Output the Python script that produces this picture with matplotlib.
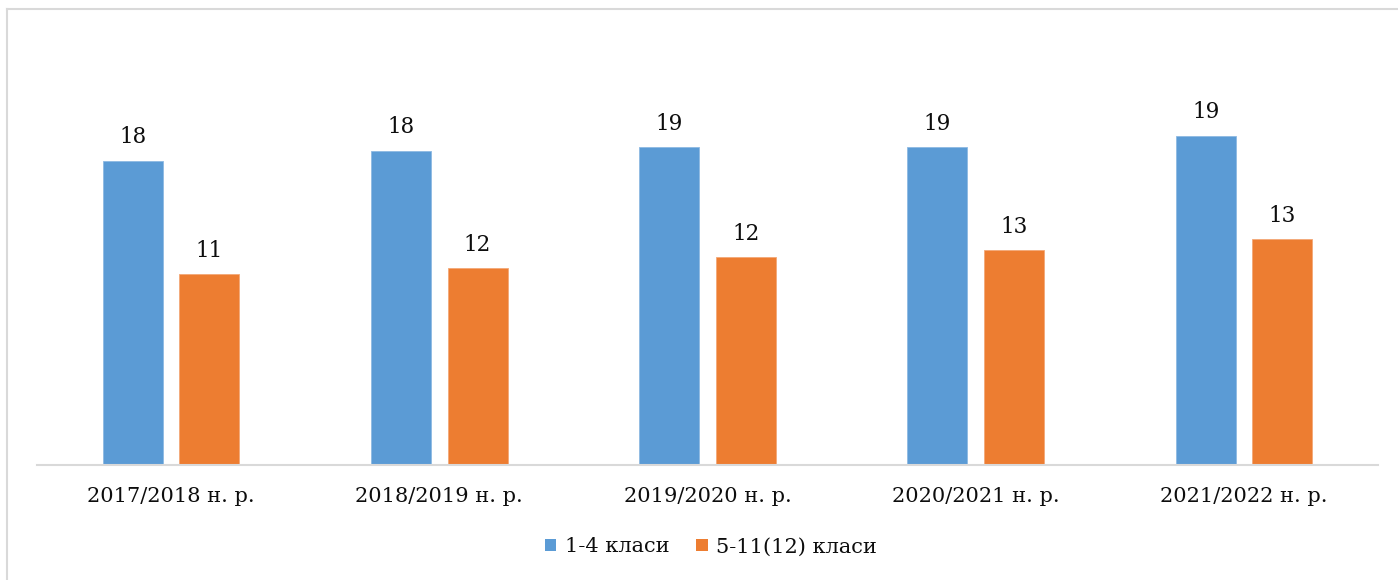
import numpy as np
import matplotlib
matplotlib.use('Agg')
from matplotlib import pyplot as plt
from matplotlib.patches import Patch
from matplotlib.lines import Line2D

# data
years = ['2017/2018 н. р.', '2018/2019 н. р.', '2019/2020 н. р.',
         '2020/2021 н. р.', '2021/2022 н. р.']
junior = [17.88, 18.47, 18.65, 18.65, 19.35]   # 1-4 класи
senior = [11.18, 11.56, 12.18, 12.59, 13.24]   # 5-11(12) класи
series_names = ['1-4 класи', '5-11(12) класи']

blue = '#5B9BD5'
orange = '#ED7D31'
grey = '#D9D9D9'
txt = '#0d0d0d'

plt.rcParams['font.family'] = ['DejaVu Serif']

fig = plt.figure(figsize=(13.98, 5.80), dpi=100)
ax = fig.add_axes([37/1398, 1 - 464.5/580, 1341/1398, 425/580])

x = np.arange(len(years))
w = 0.2237
off = 0.1426
b1 = ax.bar(x - off, junior, w, color=blue, edgecolor='#8DB9E3', linewidth=0.6)
b2 = ax.bar(x + off, senior, w, color=orange, edgecolor='#F3A877', linewidth=0.6)

for bars, vals in ((b1, junior), (b2, senior)):
    for r, v in zip(bars, vals):
        ax.annotate('%d' % round(v), (r.get_x() + r.get_width()/2, r.get_height()),
                    xytext=(0, 12.5), textcoords='offset points',
                    ha='center', va='baseline', fontsize=15.5, color=txt)

ax.set_xlim(-0.5, len(years) - 0.5)
ax.set_ylim(0, 25)
ax.set_xticks(x)
ax.set_xticklabels(years, fontsize=15, color=txt)
ax.tick_params(axis='x', length=0, pad=16)
ax.set_yticks([])
for s in ('left', 'right', 'top'):
    ax.spines[s].set_visible(False)
ax.spines['bottom'].set_color(grey)
ax.spines['bottom'].set_linewidth(1.5)

handles = [Patch(facecolor=blue), Patch(facecolor=orange)]
leg = fig.legend(handles, series_names, loc='center', bbox_to_anchor=(711/1398, 1 - 547/580),
                 ncol=2, frameon=False, prop={'family': 'DejaVu Serif', 'size': 15},
                 handlelength=0.55, handleheight=0.55, handletextpad=0.4, columnspacing=1.3)
for t in leg.get_texts():
    t.set_color(txt)

# chart frame (only top and left edges visible in the crop)
fig.add_artist(Line2D([7/1398, 7/1398], [0, 1 - 9/580], color=grey, lw=1.5))
fig.add_artist(Line2D([7/1398, 1], [1 - 9/580, 1 - 9/580], color=grey, lw=1.5))

fig.savefig('out.png', dpi=100)
